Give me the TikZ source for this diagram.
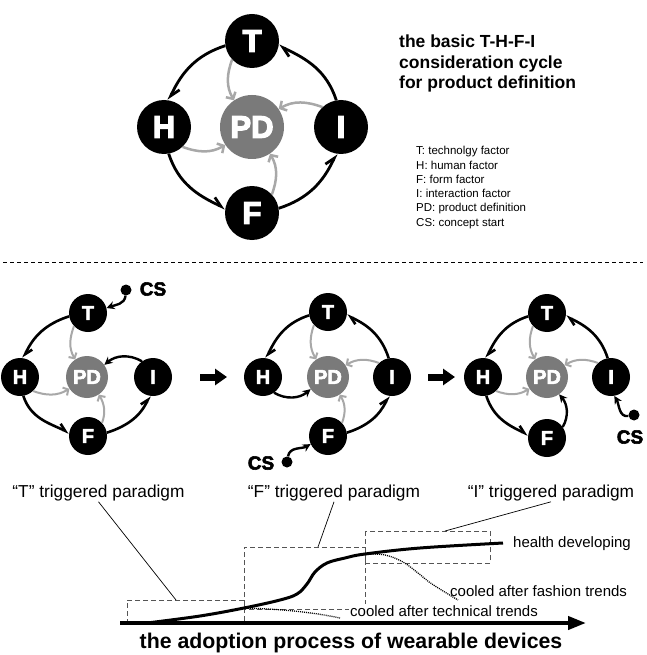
\documentclass[tikz,border=0pt]{standalone}
\usepackage{fontspec}
\setmainfont{Liberation Sans}
\newfontfamily\heavy{Liberation Sans Bold}[FakeBold=4]
\newfontfamily\heavysm{Liberation Sans Bold}[FakeBold=3]
\usetikzlibrary{arrows.meta}
\definecolor{pdgray}{HTML}{7A7A7A}
\definecolor{arrgray}{HTML}{A8A8A8}
\definecolor{boxgray}{HTML}{555555}
\begin{document}
\begin{tikzpicture}[x=1pt,y=1pt,
  big/.style={circle,fill=black,minimum size=54pt,inner sep=0pt,text=white,font=\heavy\fontsize{31}{31}\selectfont},
  bigpd/.style={big,fill=pdgray,minimum size=64pt},
  sm/.style={circle,fill=black,minimum size=38pt,inner sep=0pt,text=white,font=\heavysm\fontsize{20}{20}\selectfont},
  smpd/.style={sm,fill=pdgray,minimum size=42pt},
  ringbig/.style={line width=2.8pt,-{Straight Barb[harpoon,length=9pt,width=11pt]}},
  ringsm/.style={line width=2.6pt,-{Straight Barb[harpoon,length=7pt,width=9pt]}},
  grayarr/.style={draw=arrgray,line width=2.5pt,-{Straight Barb[length=5pt,width=11pt]}},
  grayarrsm/.style={draw=arrgray,line width=2pt,-{Straight Barb[length=4pt,width=9pt]}},
  blackarr/.style={line width=2.4pt,-{Stealth[length=8pt,width=8pt]}},
  csdot/.style={circle,fill=black,minimum size=11pt,inner sep=0pt},
  cslab/.style={font=\heavysm\fontsize{19}{19}\selectfont,inner sep=0pt},
  blockarr/.style={line width=7pt,-{Triangle[length=12pt,width=16pt]}},
  titletxt/.style={anchor=base west,inner sep=0pt,font=\bfseries\fontsize{17.5}{20}\selectfont},
  legtxt/.style={anchor=base west,inner sep=0pt,font=\fontsize{11.5}{14}\selectfont},
  partxt/.style={anchor=base,inner sep=1pt,font=\fontsize{17.3}{20}\selectfont},
  charttxt/.style={anchor=base west,inner sep=1pt,font=\fontsize{15}{18}\selectfont},
  dbox/.style={draw=boxgray,line width=0.8pt,dash pattern=on 5pt off 3pt},
  dots/.style={line width=1.3pt,dash pattern=on 1pt off 1pt},
  thin/.style={line width=0.7pt}
]
\fill[white] (0,0) rectangle (646,-655);
\useasboundingbox (0,0) rectangle (646,-655);

% ---------------- top cycle
\node[bigpd] (PD0) at (252,-127) {PD};
\node[big] (T0) at (252,-41) {T};
\node[big] (H0) at (164,-127) {H};
\node[big] (I0) at (341,-127) {I};
\node[big] (F0) at (252,-213) {F};
\draw[ringbig] (I0.100) to[out=108,in=-25] (T0.-10);
\draw[ringbig] (T0.190) to[out=198,in=65] (H0.80);
\draw[ringbig] (H0.280) to[out=288,in=155] (F0.170);
\draw[ringbig] (F0.10) to[out=18,in=245] (I0.260);
\draw[grayarr] (T0.223) to[out=250,in=120] (PD0.124);
\draw[grayarr] (I0.133) to[out=160,in=30] (PD0.34);
\draw[grayarr] (H0.313) to[out=340,in=210] (PD0.214);
\draw[grayarr] (F0.43) to[out=70,in=300] (PD0.304);

\node[titletxt] (ti1) at (399,-48) {the basic T-H-F-I};
\node[titletxt] (ti2) at (399,-68.5) {consideration cycle};
\node[titletxt] (ti3) at (399,-89) {for product definition};

\node[legtxt] (lg1) at (416,-155) {T: technolgy factor};
\node[legtxt] (lg2) at (416,-169.2) {H: human factor};
\node[legtxt] (lg3) at (416,-183.4) {F: form factor};
\node[legtxt] (lg4) at (416,-197.6) {I: interaction factor};
\node[legtxt] (lg5) at (416,-211.8) {PD: product definition};
\node[legtxt] (lg6) at (416,-226) {CS: concept start};

% separator
\coordinate (sepa) at (3,-262);
\coordinate (sepb) at (643,-262);
\draw[line width=0.6pt,dash pattern=on 4pt off 3pt] (sepa) -- (sepb);

% ---------------- cycle 1 (T triggered)
\node[smpd] (PD1) at (87,-377) {PD};
\node[sm] (T1) at (88,-313) {T};
\node[sm] (H1) at (20,-377) {H};
\node[sm] (I1) at (153,-377) {I};
\node[sm] (F1) at (88,-436) {F};
\draw[ringsm] (T1.190) to[out=198,in=65] (H1.80);
\draw[ringsm] (H1.280) to[out=288,in=155] (F1.170);
\draw[ringsm] (F1.10) to[out=18,in=245] (I1.260);
\draw[grayarrsm] (T1.223) to[out=250,in=120] (PD1.124);
\draw[grayarrsm] (H1.313) to[out=340,in=210] (PD1.214);
\draw[grayarrsm] (F1.43) to[out=70,in=300] (PD1.304);
\draw[blackarr] (I1.125) to[out=150,in=40] (PD1.35);
\node[csdot] (cs1) at (126,-290) {};
\node[cslab] (cs1l) at (153,-289) {CS};
\draw[blackarr] (cs1) to[out=-95,in=20] (T1.15);

% ---------------- cycle 2 (F triggered)
\node[smpd] (PD2) at (328,-377) {PD};
\node[sm] (T2) at (328,-312) {T};
\node[sm] (H2) at (263,-377) {H};
\node[sm] (I2) at (392,-377) {I};
\node[sm] (F2) at (328,-436) {F};
\draw[ringsm] (F2.10) to[out=18,in=245] (I2.260);
\draw[ringsm] (I2.100) to[out=108,in=-25] (T2.-10);
\draw[ringsm] (T2.190) to[out=198,in=65] (H2.80);
\draw[grayarrsm] (T2.223) to[out=250,in=120] (PD2.124);
\draw[grayarrsm] (I2.133) to[out=160,in=30] (PD2.34);
\draw[grayarrsm] (F2.43) to[out=70,in=300] (PD2.304);
\draw[blackarr] (H2.305) to[out=330,in=220] (PD2.215);
\node[csdot] (cs2) at (287,-462) {};
\node[cslab] (cs2l) at (261,-463) {CS};
\draw[blackarr] (cs2) to[out=80,in=210] (F2.205);

% ---------------- cycle 3 (I triggered)
\node[smpd] (PD3) at (547,-377) {PD};
\node[sm] (T3) at (547,-313) {T};
\node[sm] (H3) at (483,-377) {H};
\node[sm] (I3) at (611,-377) {I};
\node[sm] (F3) at (547,-438) {F};
\draw[ringsm] (I3.100) to[out=108,in=-25] (T3.-10);
\draw[ringsm] (T3.190) to[out=198,in=65] (H3.80);
\draw[ringsm] (H3.280) to[out=288,in=155] (F3.170);
\draw[grayarrsm] (T3.223) to[out=250,in=120] (PD3.124);
\draw[grayarrsm] (I3.133) to[out=160,in=30] (PD3.34);
\draw[grayarrsm] (H3.313) to[out=340,in=210] (PD3.214);
\draw[blackarr] (F3.35) to[out=60,in=310] (PD3.305);
\node[csdot] (cs3) at (634,-415) {};
\node[cslab] (cs3l) at (630,-437) {CS};
\draw[blackarr] (cs3) to[out=190,in=-60] (I3.-80);

% arrows between cycles
\coordinate (ba1) at (200,-377);
\coordinate (bb1) at (227,-377);
\coordinate (ba2) at (428,-377);
\coordinate (bb2) at (455,-377);
\draw[blockarr] (ba1) -- (bb1);
\draw[blockarr] (ba2) -- (bb2);

% paradigm labels
\node[partxt] (pT) at (98.5,-497) {“T” triggered paradigm};
\node[partxt] (pF) at (334,-497) {“F” triggered paradigm};
\node[partxt] (pI) at (551,-497) {“I” triggered paradigm};

% ---------------- adoption chart
\draw[dbox] (244,-608) -- (244,-600) -- (127,-600) -- (127,-621);
\draw[dbox] (244,-621) -- (244,-547) -- (365,-547) -- (365,-609) -- (244,-609);
\draw[dbox] (365,-531) rectangle (490,-563);

\coordinate (b1) at (176,-600);
\coordinate (b2) at (318,-547);
\coordinate (b3) at (445,-531);
\draw[thin] (pT.south) -- (b1);
\draw[thin] (pF.south) -- (b2);
\draw[thin] (pI.south) -- (b3);

\draw[dots] (244,-608) .. controls (280,-609) and (312,-612) .. (340,-618);
\draw[dots] plot[smooth,tension=0.6] coordinates {(365,-554) (385,-555) (403,-562) (418,-573) (432,-584) (458,-600)};
\draw[line width=3pt] plot[smooth,tension=0.6] coordinates {(147,-623) (200,-616) (244,-608) (280,-600) (297,-594) (307,-584) (315,-572) (327,-563) (345,-558) (365,-554) (420,-548) (503,-543)};

\node[charttxt] (hd) at (512,-547) {health developing};
\node[charttxt] (cf) at (449,-596) {cooled after fashion trends};
\node[charttxt,fill=white] (ct) at (349,-616) {cooled after technical trends};

\coordinate (axa) at (120,-623);
\coordinate (axb) at (586,-623);
\draw[line width=4pt,-{Triangle[length=18pt,width=13pt]}] (axa) -- (axb);
\node[anchor=base,inner sep=0pt,font=\bfseries\fontsize{21.3}{24}\selectfont] (ad) at (351,-648) {the adoption process of wearable devices};
\end{tikzpicture}
\end{document}
